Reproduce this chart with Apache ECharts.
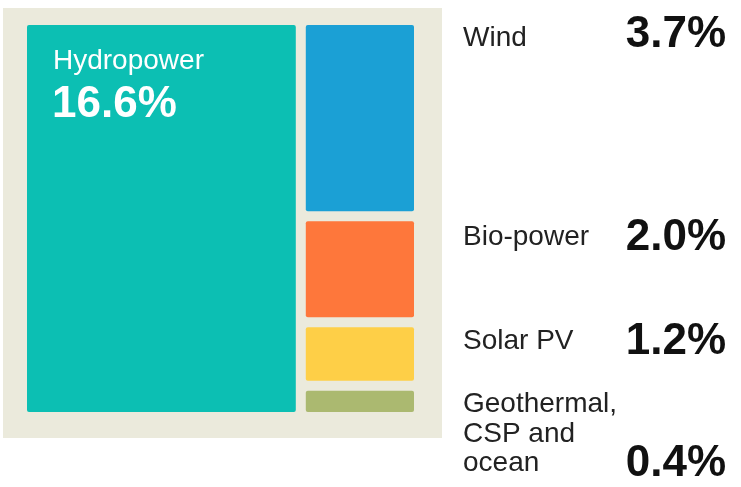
<!DOCTYPE html>
<html>
<head>
<meta charset="utf-8">
<script src="https://cdn.jsdelivr.net/npm/echarts@6/dist/echarts.min.js"></script>
<style>
html,body{margin:0;padding:0;background:#ffffff;}
#chart{width:741px;height:487px;}
</style>
</head>
<body>
<div id="chart"></div>
<script>
// ---- data ----
const categories = ['Hydropower', 'Wind', 'Bio-power', 'Solar PV', 'Geothermal,\nCSP and\nocean'];
const shares = [16.6, 3.7, 2.0, 1.2, 0.4];
const valueLabels = ['16.6%', '3.7%', '2.0%', '1.2%', '0.4%'];

// ---- styles ----
const colors = ['#0cbfb3', '#1ba0d5', '#fe773b', '#fecf47', '#abb970'];
const FONT = '"Liberation Sans", Arial, Helvetica, sans-serif';

const total = shares.reduce((a, b) => a + b, 0);
const restSum = total - shares[0];

// Build layout data from the shares: first block is a full-height column,
// the rest stack in the remaining column.
const blocks = [];
blocks.push([0, shares[0], 0, restSum, 0]);
let cum = 0;
for (let i = 1; i < shares.length; i++) {
  blocks.push([shares[0], total, cum, cum + shares[i], i]);
  cum += shares[i];
}

const chart = echarts.init(document.getElementById('chart'), null, {renderer: 'canvas'});
const GAP = 10;

// right-hand label positions (cap-centre y)
const labelY = [null, 38, 237, 341, 404];
const valueY = [null, 33, 236, 340, 462];

const graphics = [
  {type: 'rect', z: 0, shape: {x: 3, y: 8, width: 439, height: 430}, style: {fill: '#ebeadc'}}
];
// label inside the first block
graphics.push({type: 'text', z: 10, x: 53, y: 61,
  style: {text: categories[0], fill: '#ffffff', font: '28px ' + FONT, verticalAlign: 'middle'}});
graphics.push({type: 'text', z: 10, x: 52, y: 105,
  style: {text: valueLabels[0], fill: '#ffffff', font: 'bold 44px ' + FONT, verticalAlign: 'middle'}});
for (let i = 1; i < categories.length; i++) {
  const multi = categories[i].indexOf('\n') >= 0;
  graphics.push({type: 'text', z: 10, x: 463, y: multi ? labelY[i] - 14 : labelY[i],
    style: {text: categories[i], fill: '#222222', font: '28px ' + FONT,
      verticalAlign: multi ? 'top' : 'middle', lineHeight: 29.5}});
  graphics.push({type: 'text', z: 10, x: 726, y: valueY[i] + 2,
    style: {text: valueLabels[i], fill: '#111111', font: 'bold 44px ' + FONT, align: 'right', verticalAlign: 'middle'}});
}

const option = {
  animation: false,
  backgroundColor: '#ffffff',
  grid: {left: 27, top: 25, right: 327, bottom: 75},
  xAxis: {type: 'value', min: 0, max: total, show: false},
  yAxis: {type: 'value', min: 0, max: restSum, inverse: true, show: false},
  graphic: graphics,
  series: [{
    type: 'custom',
    z: 2,
    data: blocks,
    encode: {x: [0, 1], y: [2, 3]},
    renderItem: function (params, api) {
      const idx = api.value(4);
      const p0 = api.coord([api.value(0), api.value(2)]);
      const p1 = api.coord([api.value(1), api.value(3)]);
      const left = p0[0] + (idx > 0 ? GAP : 0);
      const right = p1[0];
      const top = p0[1];
      const bottom = p1[1] - (idx > 0 && idx < shares.length - 1 ? GAP : 0);
      return {
        type: 'rect',
        shape: {x: left, y: top, width: right - left, height: bottom - top, r: 2},
        style: {fill: colors[idx]}
      };
    }
  }]
};
chart.setOption(option);
</script>
</body>
</html>
